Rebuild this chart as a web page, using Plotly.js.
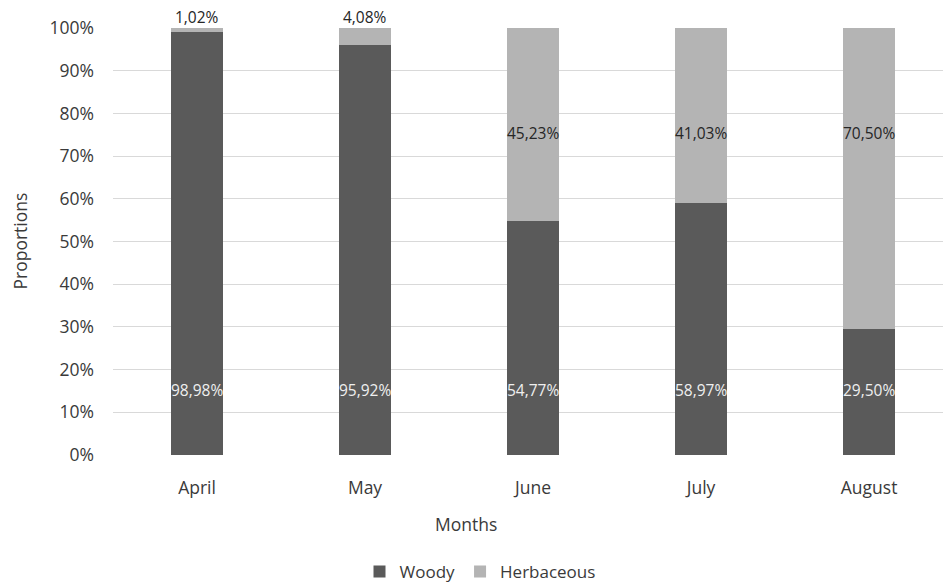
<!DOCTYPE html>
<html>
<head>
<meta charset="utf-8">
<script src="https://cdn.plot.ly/plotly-3.0.1.min.js"></script>
<style>html,body{margin:0;padding:0;background:#fff;}#chart{width:943px;height:587px;}</style>
</head>
<body>
<div id="chart"></div>
<script>
var months = ["April", "May", "June", "July", "August"];
var woody = [98.98, 95.92, 54.77, 58.97, 29.50];
var herbaceous = [1.02, 4.08, 45.23, 41.03, 70.50];
var yTicks = [0, 10, 20, 30, 40, 50, 60, 70, 80, 90, 100];

function fmt(v) { return v.toFixed(2).replace(".", ",") + "%"; }

var FONT = "Open Sans, sans-serif";
var TXT = "#3a3a3a";
var traces = [
  {type: "bar", name: "Woody", x: months, y: woody, marker: {color: "#5a5a5a"}, hoverinfo: "skip"},
  {type: "bar", name: "Herbaceous", x: months, y: herbaceous, marker: {color: "#b4b4b4"}, hoverinfo: "skip"}
];

var annotations = [];
months.forEach(function (m, i) {
  annotations.push({x: m, y: 15.2, xref: "x", yref: "y", text: fmt(woody[i]), showarrow: false,
    font: {family: FONT, size: 15.5, color: "#efefef"}});
  var small = herbaceous[i] < 10;
  annotations.push({x: m, y: small ? 100 : 75.3, xref: "x", yref: "y", text: fmt(herbaceous[i]), showarrow: false,
    yanchor: small ? "bottom" : "middle", yshift: small ? -2 : 0,
    font: {family: FONT, size: 15.5, color: "#262626"}});
});
annotations.push({text: "Months", xref: "paper", yref: "paper", x: (466 - 113) / 830, y: -(524 - 455) / 427,
  xanchor: "center", yanchor: "middle", showarrow: false, font: {family: FONT, size: 17.5, color: TXT}});
annotations.push({text: "Proportions", xref: "paper", yref: "paper", x: -(113 - 19) / 830, y: 0.5, textangle: -90,
  xanchor: "center", yanchor: "middle", showarrow: false, font: {family: FONT, size: 17.5, color: TXT}});

var layout = {
  width: 943, height: 587,
  margin: {l: 113, r: 0, t: 28, b: 132},
  barmode: "stack", bargap: 0.69,
  paper_bgcolor: "#fff", plot_bgcolor: "#fff",
  font: {family: FONT, size: 17.5, color: TXT},
  xaxis: {type: "category", range: [-0.5, 4.44], showgrid: false, zeroline: false, showline: false,
    ticks: "", ticklabelstandoff: 20, automargin: false, tickfont: {family: FONT, size: 17.5, color: TXT}},
  yaxis: {range: [0, 100], tickvals: yTicks, ticktext: yTicks.map(function (v) { return v + "%"; }),
    showgrid: true, gridcolor: "#d9d9d9", gridwidth: 1, zeroline: false, showline: false, ticks: "",
    ticklabelstandoff: 18, automargin: false, tickfont: {family: FONT, size: 17.5, color: TXT}},
  showlegend: true,
  legend: {orientation: "h", xref: "paper", x: (480 - 113) / 830, xanchor: "center",
    yref: "container", y: (587 - 572) / 587, yanchor: "middle",
    font: {family: FONT, size: 17, color: TXT}, itemwidth: 30, traceorder: "normal"},
  annotations: annotations
};

Plotly.newPlot("chart", traces, layout, {displayModeBar: false, staticPlot: true});
</script>
</body>
</html>
